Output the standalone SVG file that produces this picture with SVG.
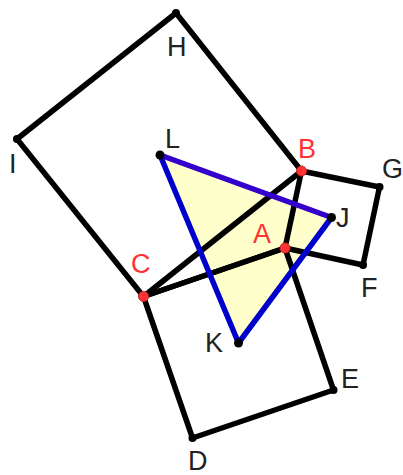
<svg xmlns="http://www.w3.org/2000/svg" width="403" height="475" viewBox="0 0 403 475">
<style>
.sq{fill:none;stroke:#000;stroke-width:5.5;stroke-linejoin:round;stroke-linecap:round}
.blue{stroke:#0000cc;stroke-width:5.5;stroke-linecap:round;fill:none}
.purple{stroke:#3300cc;stroke-width:5.5;stroke-linecap:round;fill:none}
.pt{fill:#000}
.rpt{fill:#ff3333;stroke:#cc2222;stroke-width:1}
.lbl{font-family:"Liberation Sans",Arial,sans-serif;font-size:27px;fill:#222}
.rlbl{font-family:"Liberation Sans",Arial,sans-serif;font-size:27px;fill:#ff3333}
</style>
<polygon id="triLJK" points="160,155 331.5,217.5 238.5,343" fill="#ffffcc" stroke="none"/>
<g id="connectors">
<polygon class="sq" points="143.5,296.5 301.5,171 176,13 17,139"/>
<polygon class="sq" points="301.5,171 379.5,187 363,265 285,248"/>
<polygon class="sq" points="285,248 333.5,390 192.5,438 143.5,296.5"/>
<line class="sq" x1="285" y1="248" x2="143.5" y2="296.5"/>
<line class="purple" x1="160" y1="155" x2="331.5" y2="217.5"/>
<line class="blue" x1="331.5" y1="217.5" x2="238.5" y2="343"/>
<line class="blue" x1="238.5" y1="343" x2="160" y2="155"/>
</g>
<g id="H"><circle class="pt" cx="176" cy="13" r="4"/><text class="lbl" x="167" y="56">H</text></g>
<g id="I"><circle class="pt" cx="17" cy="139" r="4"/><text class="lbl" x="9" y="173">I</text></g>
<g id="G"><circle class="pt" cx="379.5" cy="187" r="4"/><text class="lbl" x="382" y="178">G</text></g>
<g id="F"><circle class="pt" cx="363" cy="265" r="4"/><text class="lbl" x="361" y="297">F</text></g>
<g id="E"><circle class="pt" cx="333.5" cy="390" r="4"/><text class="lbl" x="341" y="388">E</text></g>
<g id="D"><circle class="pt" cx="192.5" cy="438" r="4"/><text class="lbl" x="188" y="470">D</text></g>
<g id="L"><circle class="pt" cx="160" cy="155" r="4.5"/><text class="lbl" x="165" y="148">L</text></g>
<g id="J"><circle class="pt" cx="331.5" cy="217.5" r="4.5"/><text class="lbl" x="336" y="227">J</text></g>
<g id="K"><circle class="pt" cx="238.5" cy="343" r="4.5"/><text class="lbl" x="205" y="352">K</text></g>
<g id="A"><circle class="rpt" cx="285" cy="248" r="5"/><text class="rlbl" x="253" y="243">A</text></g>
<g id="B"><circle class="rpt" cx="301.5" cy="171" r="5"/><text class="rlbl" x="298" y="158">B</text></g>
<g id="C"><circle class="rpt" cx="143.5" cy="296.5" r="5"/><text class="rlbl" x="131" y="273">C</text></g>
</svg>
